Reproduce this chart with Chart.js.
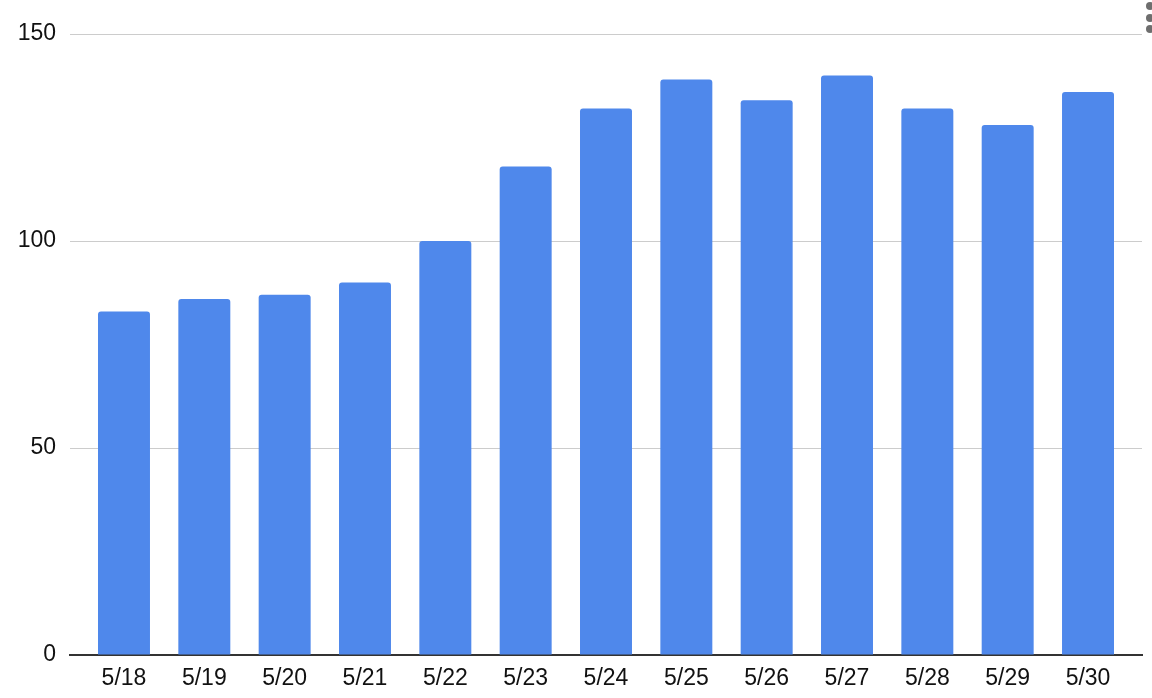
<!DOCTYPE html>
<html>
<head>
<meta charset="utf-8">
<script src="https://cdn.jsdelivr.net/npm/chart.js@4"></script>
<style>
  html, body { margin: 0; padding: 0; background: #fff; }
  #wrap { position: relative; width: 1152px; height: 698px; }
  .dot { position: absolute; left: 1146px; width: 8px; height: 8px; border-radius: 50%; background: #6e6e6e; }
</style>
</head>
<body>
<div id="wrap">
  <canvas id="chart" width="1152" height="698"></canvas>
  <div class="dot" style="top:2px"></div>
  <div class="dot" style="top:14px"></div>
  <div class="dot" style="top:25px"></div>
</div>
<script>
// dates on the x axis
const labels = ['5/18', '5/19', '5/20', '5/21', '5/22', '5/23', '5/24', '5/25', '5/26', '5/27', '5/28', '5/29', '5/30'];
// count per day
const values = [83, 86, 87, 90, 100, 118, 132, 139, 134, 140, 132, 128, 136];
const yTicks = [0, 50, 100, 150];

const FONT = { family: 'Arial, "Liberation Sans", sans-serif', size: 23 };

const ctx = document.getElementById('chart').getContext('2d');
new Chart(ctx, {
  type: 'bar',
  data: {
    datasets: [{
      data: values.map((v, i) => ({ x: i, y: v })),
      backgroundColor: '#4f88eb',
      borderRadius: { topLeft: 3, topRight: 3, bottomLeft: 0, bottomRight: 0 },
      borderSkipped: 'start',
      barPercentage: 0.647,
      categoryPercentage: 1,
    }],
  },
  options: {
    responsive: false,
    animation: false,
    layout: { padding: { top: 34, right: 10, left: 0, bottom: 0 } },
    plugins: { legend: { display: false }, tooltip: { enabled: false } },
    scales: {
      x: {
        type: 'linear',
        offset: false,
        min: -0.672,
        max: labels.length - 1 + 0.672,
        grid: { display: false, drawTicks: false },
        border: { display: true, color: '#333', width: 2 },
        afterBuildTicks: (scale) => {
          scale.ticks = labels.map((_, i) => ({ value: i }));
        },
        afterFit: (scale) => { scale.height = 43; },
        ticks: {
          autoSkip: false,
          maxRotation: 0,
          padding: 10,
          color: '#111',
          font: FONT,
          callback: (v) => labels[v],
        },
      },
      y: {
        min: 0,
        max: 150,
        afterBuildTicks: (scale) => {
          scale.ticks = yTicks.map((v) => ({ value: v }));
        },
        afterFit: (scale) => { scale.width = 70; },
        grid: { color: '#cccccc', lineWidth: 1, drawTicks: false },
        border: { display: false },
        ticks: {
          padding: 14,
          color: '#111',
          font: FONT,
        },
      },
    },
  },
});
</script>
</body>
</html>
